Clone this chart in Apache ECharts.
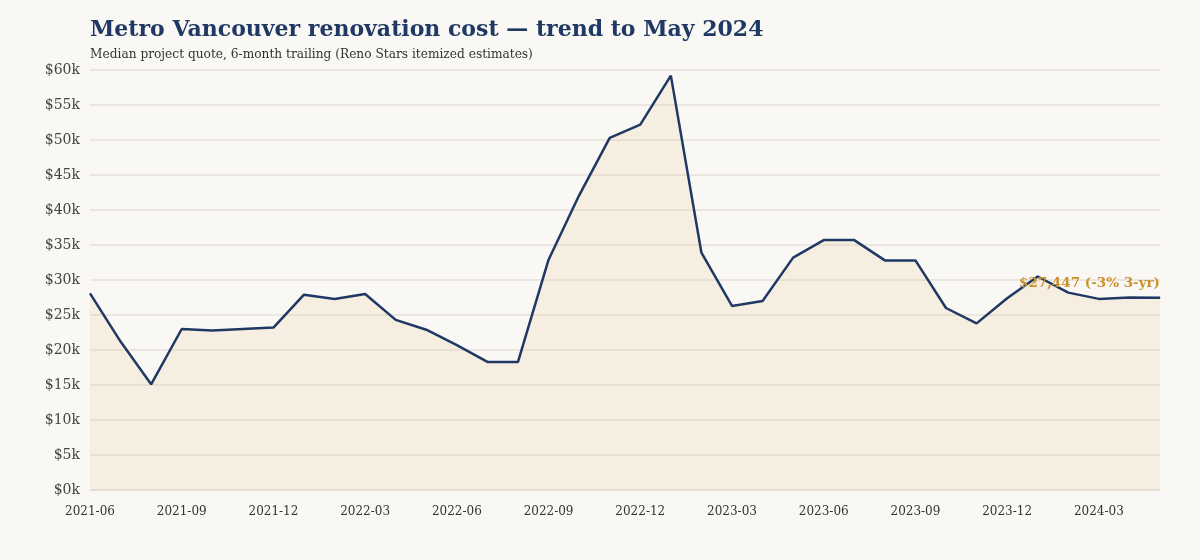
<!DOCTYPE html>
<html>
<head>
    <meta charset="UTF-8">
    <title>Metro Vancouver renovation cost</title>
    <script src="https://cdn.jsdelivr.net/npm/echarts@6/dist/echarts.min.js"></script>
</head>
<body style="margin: 0; padding: 0; background: #faf8f4;">
    <div id="container" style="width: 1200px; height: 560px;"></div>
    <script>
        // months, 2021-06 .. 2024-05
        var months = [
            "2021-06", "2021-07", "2021-08", "2021-09", "2021-10", "2021-11",
            "2021-12", "2022-01", "2022-02", "2022-03", "2022-04", "2022-05",
            "2022-06", "2022-07", "2022-08", "2022-09", "2022-10", "2022-11",
            "2022-12", "2023-01", "2023-02", "2023-03", "2023-04", "2023-05",
            "2023-06", "2023-07", "2023-08", "2023-09", "2023-10", "2023-11",
            "2023-12", "2024-01", "2024-02", "2024-03", "2024-04", "2024-05"
        ];
        // median quote, 6-month trailing (dollars)
        var medianQuote = [
            28100, 21200, 15100, 23000, 22800, 23000,
            23200, 27900, 27300, 28000, 24300, 22900,
            20700, 18300, 18300, 32900, 42100, 50300,
            52200, 59200, 33900, 26300, 27000, 33200,
            35700, 35700, 32800, 32800, 26000, 23800,
            27400, 30500, 28200, 27300, 27500, 27447
        ];
        var endNote = "$27,447 (-3% 3-yr)";

        var serif = "Georgia, 'DejaVu Serif', serif";

        var chart = echarts.init(document.getElementById('container'), null, { renderer: 'canvas' });

        // only the last point carries a (tiny) symbol so its label can be drawn
        var seriesData = medianQuote.map(function (v, i) {
            if (i === medianQuote.length - 1) {
                return {
                    value: v,
                    symbol: 'circle',
                    symbolSize: 1,
                    label: {
                        show: true,
                        position: 'top',
                        align: 'right',
                        distance: 7,
                        formatter: endNote,
                        color: '#c9922e',
                        fontFamily: serif,
                        fontWeight: 'bold',
                        fontSize: 13.5
                    }
                };
            }
            return { value: v, symbol: 'none' };
        });

        var option = {
            backgroundColor: '#faf8f4',
            title: {
                text: 'Metro Vancouver renovation cost \u2014 trend to May 2024',
                subtext: 'Median project quote, 6-month trailing (Reno Stars itemized estimates)',
                left: 85,
                top: 14,
                itemGap: 8,
                textStyle: { fontFamily: serif, fontWeight: 'bold', fontSize: 22, color: '#1f3864' },
                subtextStyle: { fontFamily: serif, fontSize: 12.2, color: '#333333' }
            },
            grid: { left: 90, right: 40, top: 70, bottom: 70 },
            xAxis: {
                type: 'category',
                data: months,
                boundaryGap: false,
                axisLine: { show: true, lineStyle: { color: '#e3ddd2' } },
                axisTick: { show: false },
                axisLabel: {
                    interval: 2,
                    color: '#333333',
                    fontFamily: serif,
                    fontSize: 12,
                    margin: 16
                }
            },
            yAxis: {
                type: 'value',
                min: 0,
                max: 60000,
                interval: 5000,
                axisLine: { show: false },
                axisTick: { show: false },
                axisLabel: {
                    color: '#444444',
                    fontFamily: serif,
                    fontSize: 14,
                    margin: 10,
                    formatter: function (v) { return '$' + (v / 1000) + 'k'; }
                },
                splitLine: { lineStyle: { color: '#e6e1d8', width: 1.5 } }
            },
            series: [{
                type: 'line',
                data: seriesData,
                showSymbol: true,
                lineStyle: { color: '#1f3864', width: 2.5 },
                itemStyle: { color: '#1f3864' },
                areaStyle: { color: 'rgba(230, 205, 160, 0.32)' },
                z: 3
            }]
        };
        chart.setOption(option);
    </script>
</body>
</html>
